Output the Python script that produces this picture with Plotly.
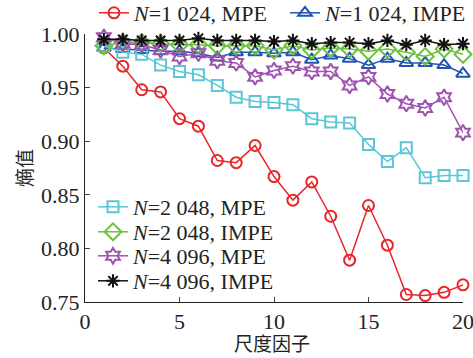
import plotly.graph_objects as go

scale = list(range(1, 21))

mpe_1024 = [0.987, 0.970, 0.948, 0.946, 0.921, 0.914, 0.882, 0.880, 0.896, 0.867,
            0.845, 0.862, 0.830, 0.789, 0.840, 0.803, 0.757, 0.756, 0.759, 0.766]
impe_1024 = [0.987, 0.986, 0.985, 0.984, 0.984, 0.982, 0.978, 0.983, 0.983, 0.982,
             0.983, 0.976, 0.980, 0.977, 0.971, 0.977, 0.973, 0.973, 0.971, 0.963]
mpe_2048 = [0.989, 0.983, 0.981, 0.971, 0.965, 0.962, 0.952, 0.941, 0.937, 0.936,
            0.934, 0.921, 0.918, 0.917, 0.897, 0.881, 0.894, 0.866, 0.868, 0.868]
impe_2048 = [0.989, 0.992, 0.992, 0.991, 0.990, 0.990, 0.989, 0.989, 0.989, 0.985,
             0.989, 0.985, 0.987, 0.986, 0.984, 0.986, 0.983, 0.979, 0.986, 0.981]
mpe_4096 = [0.997, 0.991, 0.990, 0.985, 0.979, 0.982, 0.975, 0.973, 0.960, 0.966,
            0.970, 0.965, 0.965, 0.952, 0.960, 0.944, 0.935, 0.931, 0.941, 0.908]
impe_4096 = [0.995, 0.995, 0.994, 0.994, 0.994, 0.996, 0.994, 0.994, 0.994, 0.993,
             0.994, 0.991, 0.992, 0.992, 0.991, 0.994, 0.990, 0.994, 0.990, 0.991]

x_title = "尺度因子"
y_title = "熵值"

series = [
    ("<i>N</i>=1 024, MPE", mpe_1024, "#e8262a", "circle-open", 11, "legend"),
    ("<i>N</i>=1 024, IMPE", impe_1024, "#2154b0", "triangle-up-open", 12, "legend2"),
    ("<i>N</i>=2 048, MPE", mpe_2048, "#5cc6d6", "square-open", 11, "legend3"),
    ("<i>N</i>=2 048, IMPE", impe_2048, "#6cc042", "diamond-open", 13, "legend4"),
    ("<i>N</i>=4 096, MPE", mpe_4096, "#a052b0", "hexagram-open", 12, "legend5"),
    ("<i>N</i>=4 096, IMPE", impe_4096, "#111111", "asterisk-open", 11, "legend6"),
]

fig = go.Figure()
for name, vals, color, sym, size, lg in series:
    fig.add_trace(go.Scatter(
        x=scale, y=vals, name=name, mode="lines+markers",
        line=dict(color=color, width=1.5),
        marker=dict(symbol=sym, size=size, color=color, line=dict(color=color, width=2)),
        legend=lg, cliponaxis=False,
    ))

# plot area in px: x 85..463, y 34..302
def px_x(p):
    return (p - 85) / 378.0

def px_y(p):
    return (302 - p) / 268.0

legend_pos = {
    "legend": (94, 13),
    "legend2": (285, 13),
    "legend3": (93, 207),
    "legend4": (93, 232),
    "legend5": (93, 256),
    "legend6": (93, 281),
}

font_main = "Liberation Serif, Times New Roman, serif"
font_cjk = "Noto Sans CJK SC"
layout_legends = {}
for key, (lx, ly) in legend_pos.items():
    layout_legends[key] = dict(
        x=px_x(lx), y=px_y(ly), xanchor="left", yanchor="middle",
        font=dict(size=22, family=font_main, color="#222"),
        bgcolor="rgba(0,0,0,0)", borderwidth=0, tracegroupgap=0,
    )

fig.update_layout(
    width=473, height=358,
    margin=dict(l=85, r=10, t=34, b=56, autoexpand=False),
    plot_bgcolor="white", paper_bgcolor="white",
    font=dict(family=font_main, size=22, color="#222"),
    showlegend=True,
    **layout_legends,
    xaxis=dict(range=[0, 20], tickvals=[0, 5, 10, 15, 20], ticks="inside", ticklen=5,
               showline=True, linecolor="#222", linewidth=1, showgrid=False, zeroline=False,
               ticklabeloverflow="allow", tickfont=dict(size=22)),
    yaxis=dict(range=[0.75, 1.0], tickvals=[0.75, 0.80, 0.85, 0.90, 0.95, 1.00],
               tickformat=".2f", ticks="inside", ticklen=5,
               showline=True, linecolor="#222", linewidth=1, showgrid=False, zeroline=False,
               ticklabeloverflow="allow", tickfont=dict(size=22)),
    annotations=[
        dict(text=x_title, xref="paper", yref="paper", x=px_x(272), y=px_y(342),
             xanchor="center", yanchor="middle", showarrow=False,
             font=dict(family=font_cjk, size=19, color="#222")),
        dict(text=y_title, xref="paper", yref="paper", x=px_x(23), y=px_y(168),
             xanchor="center", yanchor="middle", showarrow=False, textangle=-90,
             font=dict(family=font_cjk, size=19, color="#222")),
    ],
)

fig.write_html("out.html")
